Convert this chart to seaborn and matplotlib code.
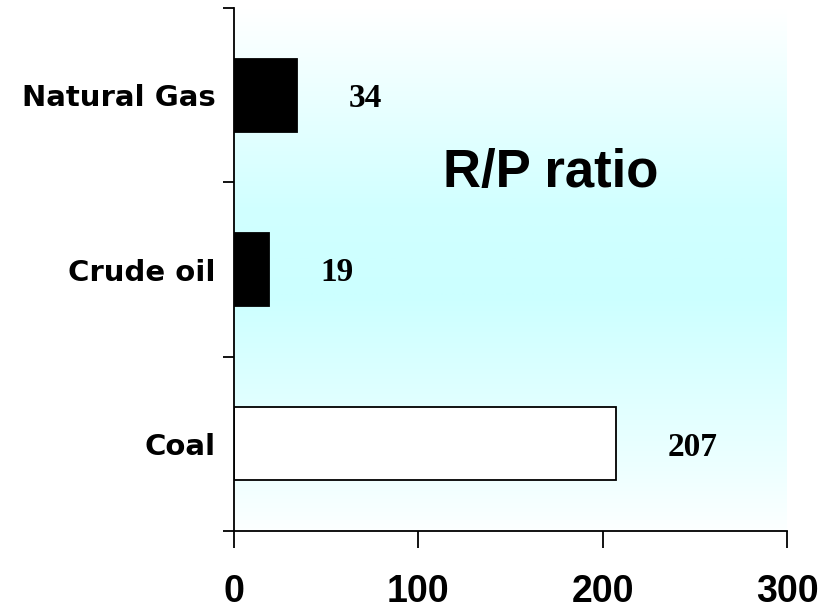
import numpy as np
import pandas as pd
import matplotlib
matplotlib.use("Agg")
import matplotlib.pyplot as plt
import seaborn as sns
from matplotlib.colors import LinearSegmentedColormap

# ---- data ----
categories = ["Natural Gas", "Crude oil", "Coal"]
rp_ratio = [34, 19, 207]
bar_colors = ["#000000", "#000000", "#ffffff"]
x_ticks = [0, 100, 200, 300]
title_text = "R/P ratio"

df = pd.DataFrame({"source": categories, "years": rp_ratio})

sns.set_style("ticks")
plt.rcParams["font.family"] = ["DejaVu Sans"]
plt.rcParams.update({"text.color": "black", "xtick.color": "black",
                     "ytick.color": "black", "axes.labelcolor": "black",
                     "xtick.labelcolor": "black", "ytick.labelcolor": "black"})

fig = plt.figure(figsize=(8.4, 6.13), dpi=100)
ax = fig.add_axes([234 / 840, 1 - 531 / 613, (787 - 234) / 840, (531 - 8) / 613])

# vertical gradient background (white -> cyan -> almost white)
fy = np.linspace(0, 1, 256)  # 0 = bottom, 1 = top
strength = np.interp(fy, [0.0, 0.12, 0.45, 0.62, 1.0], [0.05, 0.35, 1.0, 0.9, 0.0])
cmap = LinearSegmentedColormap.from_list("bg", ["#ffffff", "#ccffff"])
ax.imshow(strength[::-1].reshape(-1, 1), cmap=cmap, vmin=0, vmax=1,
          extent=[0, 1, 0, 1], transform=ax.transAxes, aspect="auto",
          zorder=0, interpolation="bilinear")

sns.barplot(data=df, y="source", x="years", hue="source", orient="h",
            palette=dict(zip(categories, bar_colors)), legend=False,
            edgecolor="black", linewidth=1.3, width=0.42, ax=ax, zorder=2)

for i, v in enumerate(rp_ratio):
    ax.text(v + 28, i + 0.02, str(v), ha="left", va="center", color="black",
            family="Liberation Serif", fontweight="bold", fontsize=24, zorder=3)

ax.text(0.572, 0.685, title_text, transform=ax.transAxes, ha="center",
        va="center", family="Liberation Sans", fontweight="bold",
        fontsize=38, color="black", zorder=3)

ax.set_xlim(0, 300)
ax.set_ylim(2.5, -0.5)
ax.set_xticks(x_ticks)
ax.set_xticklabels([str(t) for t in x_ticks], family="Liberation Sans",
                   fontweight="bold", fontsize=27)
ax.tick_params(axis="x", length=12, width=1.3, direction="out", pad=19,
               colors="black")
ax.set_yticks(range(len(categories)))
ax.set_yticklabels(categories, fontweight="heavy", fontsize=21)
ax.set_yticks([-0.5, 0.5, 1.5, 2.5], minor=True)
ax.tick_params(axis="y", which="major", length=0, pad=13, colors="black")
ax.tick_params(axis="y", which="minor", length=8, width=1.3, direction="out",
               colors="black")
for lbl in ax.get_yticklabels():
    lbl.set_verticalalignment("center_baseline")

ax.set_xlabel("")
ax.set_ylabel("")
ax.set_facecolor("white")
for s in ["top", "right"]:
    ax.spines[s].set_visible(False)
for s in ["left", "bottom"]:
    ax.spines[s].set_color("black")
    ax.spines[s].set_linewidth(1.3)

fig.savefig("out.png", dpi=100, facecolor="white")
